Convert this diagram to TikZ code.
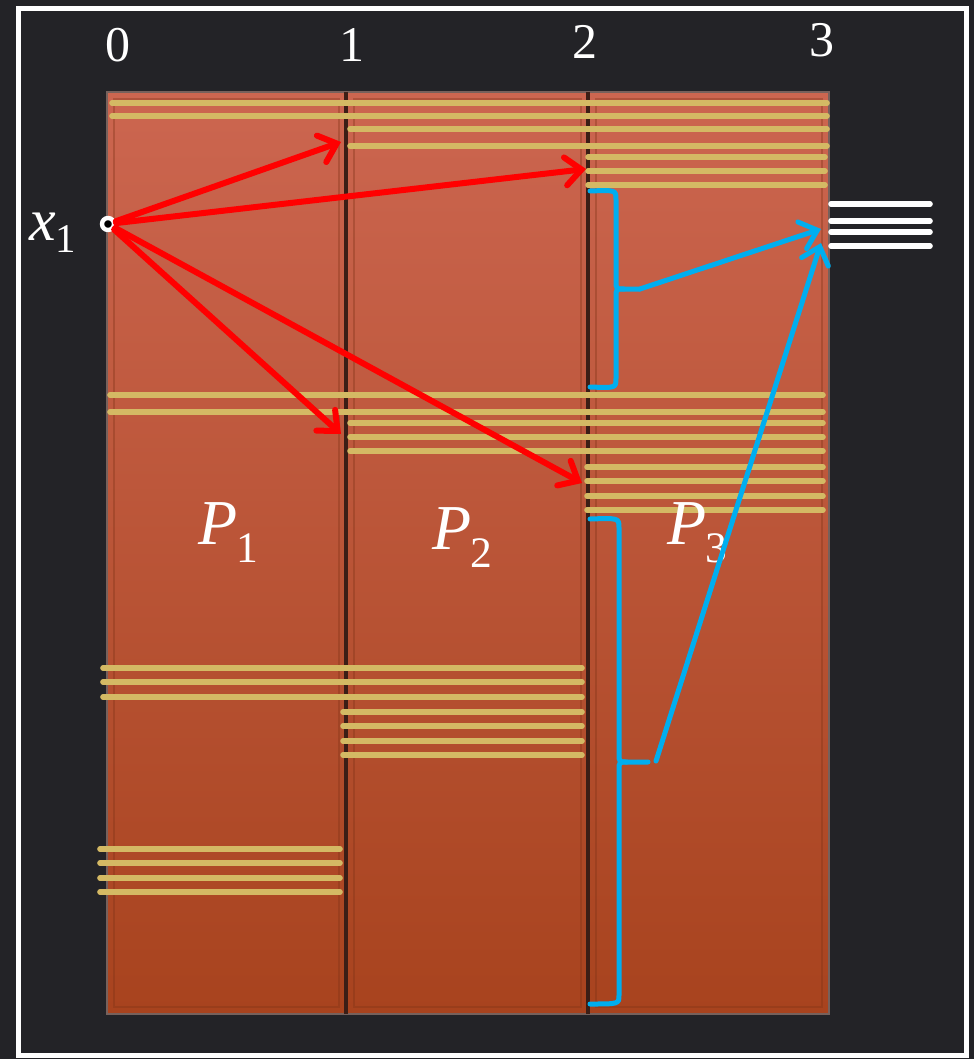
\documentclass[tikz,border=0pt]{standalone}
\usepackage{fontspec}
\setmainfont{Liberation Serif}
\usetikzlibrary{
  arrows.meta,
  calc
}
\definecolor{psBg}{HTML}{232327}
\definecolor{psTop}{HTML}{CC6650}
\definecolor{psBot}{HTML}{A8431E}
\definecolor{psEdge}{HTML}{3B1E16}
\definecolor{psStripe}{HTML}{D4B964}
\definecolor{psRed}{HTML}{FF0000}
\definecolor{psBlue}{HTML}{00AEEF}

% italic letter with a lowered index
\newcommand{\idxlabel}[4]{{\fontsize{#3}{#3}\selectfont\itshape #1}\kern-0.5pt\raisebox{-#4}{\fontsize{0.68\dimexpr#3pt\relax}{10}\selectfont #2}}

\tikzset{
  stripe/.style={psStripe, line width=2.8pt, line cap=round},
  whiteline/.style={white, line width=2.8pt, line cap=round},
  redarrow/.style={psRed, line width=3pt, line cap=round,
    -{Straight Barb[length=8pt, width=14pt, line cap=round]}},
  bluearrow/.style={psBlue, line width=2.5pt, line cap=round,
    -{Straight Barb[length=8pt, width=14pt, line cap=round]}},
  bluebrace/.style={psBlue, line width=2.5pt, line cap=round, line join=round},
  ticklabel/.style={white, font=\fontsize{25}{30}\selectfont, inner sep=0pt}
}

\begin{document}
\begin{tikzpicture}[x=0.5pt, y=-0.5pt]
  % background and frame
  \fill[psBg] (0,0) rectangle (974,1059);
  \draw[white, line width=2.5pt] (18,9) rectangle (966,1055);

  % the three panels
  \foreach \x/\w in {107/239, 347/241, 589/240}{
    \shade[top color=psTop, bottom color=psBot] (\x,92) rectangle ++(\w,922);
    \draw[psEdge!70, line width=0.8pt] (\x,92) rectangle ++(\w,922);
    \draw[psBot!75!black, opacity=0.35, line width=0.8pt] (\x+7,99) rectangle ++(\w-14,908);
  }
  \foreach \x in {346, 588}
    \draw[psEdge, line width=1.8pt] (\x,92) -- (\x,1014);

  % axis labels
  \node[ticklabel] (n0) at (118,45) {0};
  \node[ticklabel] (n1) at (352,45) {1};
  \node[ticklabel] (n2) at (585,42) {2};
  \node[ticklabel] (n3) at (822,40) {3};

  % stripes
  \foreach \y/\a/\b in {103/112/827, 116/112/827, 129/350/827, 146/350/827,
      157/588/825, 171/588/825, 185/588/825,
      395/110/823, 412/110/823, 423/350/823, 437/350/823, 451/350/823,
      467/587/823, 481/587/823, 496/587/823, 510/587/823,
      668/103/582, 682/103/582, 697/103/582,
      712/343/582, 726/343/582, 741/343/582, 755/343/582,
      849/100/340, 863/100/340, 878/100/340, 892/100/340}
    \draw[stripe] (\a,\y) -- (\b,\y);

  % merged output
  \foreach \y in {204, 221, 232, 246}
    \draw[whiteline] (831,\y) -- (930,\y);

  % panel names
  \node[white, inner sep=0pt] (p1) at (228,533) {\idxlabel{P}{1}{32}{9pt}};
  \node[white, inner sep=0pt] (p2) at (462,538) {\idxlabel{P}{2}{32}{9pt}};
  \node[white, inner sep=0pt] (p3) at (697,533) {\idxlabel{P}{3}{32}{9pt}};

  % start point
  \node[circle, draw=white, fill=black, line width=2.2pt, minimum size=6pt, inner sep=0pt] (x1) at (108,224) {};
  \node[white, inner sep=0pt] (x1lab) at (53,233) {\idxlabel{x}{1}{30}{6pt}};

  \coordinate (t1) at (341,142);
  \coordinate (t2) at (586,169);
  \coordinate (t3) at (341,434);
  \coordinate (t4) at (582,483);
  \draw[redarrow] (x1) -- (t1);
  \draw[redarrow] (x1) -- (t2);
  \draw[redarrow] (x1) -- (t3);
  \draw[redarrow] (x1) -- (t4);

  % braces
  \coordinate (b1) at (640,289);
  \coordinate (b2) at (648,762);
  \coordinate (b2s) at (656,761);
  \coordinate (w1) at (821,229);
  \coordinate (w2) at (821,243);
  \draw[bluebrace] (590,191) .. controls (616,190) .. (616,200) -- (616,281)
    .. controls (616,289) .. (624,289) -- (b1);
  \draw[bluebrace] (624,289) .. controls (616,289) .. (616,297) -- (616,378)
    .. controls (616,388) .. (590,387);
  \draw[bluebrace] (590,519) .. controls (619,518) .. (619,528) -- (619,754)
    .. controls (619,762) .. (627,762) -- (b2);
  \draw[bluebrace] (627,762) .. controls (619,762) .. (619,770) -- (619,995)
    .. controls (619,1004) .. (590,1004);
  \draw[bluearrow] (b1) -- (w1);
  \draw[bluearrow] (b2s) -- (w2);
\end{tikzpicture}
\end{document}
